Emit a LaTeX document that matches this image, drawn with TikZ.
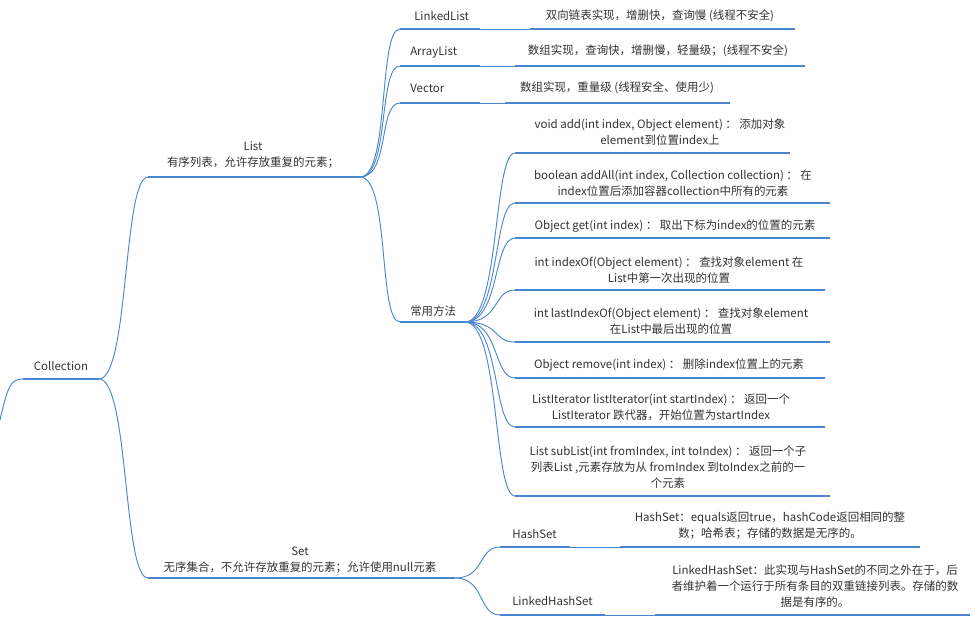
\documentclass[tikz,border=0pt]{standalone}
\usepackage{fontspec}
\setmainfont{Noto Sans CJK SC}
\begin{document}
\begin{tikzpicture}[x=0.75pt,y=-0.75pt,
  ul/.style={draw=lineblue,line width=2.2pt},
  con/.style={draw=lineblue,line width=0.7pt},
  txt/.style={font=\fontsize{8.6}{12}\selectfont,text=txtgray,align=center,inner sep=0pt}]
\definecolor{lineblue}{HTML}{4A86D0}
\definecolor{txtgray}{HTML}{333333}
\useasboundingbox[fill=white] (0,0) rectangle (975,622);
% coordinates
\coordinate (in) at (0,420);
\coordinate (colL) at (23,379); \coordinate (colR) at (99,379);
\coordinate (listL) at (148,177); \coordinate (listR) at (360,177);
\coordinate (setL) at (148,578); \coordinate (setR) at (455,578);
\coordinate (llL) at (400,29); \coordinate (llR) at (480,29);
\coordinate (alL) at (400,66); \coordinate (alR) at (480,66);
\coordinate (vecL) at (400,103); \coordinate (vecR) at (480,103);
\coordinate (mtL) at (400,322); \coordinate (mtR) at (465,322);
\coordinate (lldL) at (530,29); \coordinate (lldR) at (795,29);
\coordinate (aldL) at (515,66); \coordinate (aldR) at (805,66);
\coordinate (vecdL) at (505,103); \coordinate (vecdR) at (730,103);
\foreach \n/\y/\r in {1/153/790,2/203/830,3/238/830,4/290/825,5/342/830,6/378/825,7/427/825,8/496/830}{
  \coordinate (m\n L) at (515,\y); \coordinate (m\n R) at (\r,\y);}
\coordinate (hsL) at (500,547); \coordinate (hsR) at (570,547);
\coordinate (lhsL) at (500,615); \coordinate (lhsR) at (605,615);
\coordinate (hsdL) at (620,547); \coordinate (hsdR) at (920,547);
\coordinate (lhsdL) at (655,615); \coordinate (lhsdR) at (970,615);
% underlines
\foreach \a in {col,list,set,ll,al,vec,mt,lld,ald,vecd,hs,lhs,hsd,lhsd,m1,m2,m3,m4,m5,m6,m7,m8}{
  \draw[ul] (\a L) -- (\a R);}
% connectors
\draw[con] (in) .. controls +(8,-35) and +(-12,0) .. (colL);
\foreach \b in {listL,setL}{\draw[con] (colR) .. controls +(30,0) and +(-25,0) .. (\b);}
\foreach \b in {llL,alL,vecL,mtL}{\draw[con] (listR) .. controls +(30,0) and +(-22,0) .. (\b);}
\draw[con] (llR) -- (lldL); \draw[con] (alR) -- (aldL); \draw[con] (vecR) -- (vecdL);
\foreach \n in {1,...,8}{\draw[con] (mtR) .. controls +(35,0) and +(-22,0) .. (m\n L);}
\foreach \b in {hsL,lhsL}{\draw[con] (setR) .. controls +(30,0) and +(-22,0) .. (\b);}
\draw[con] (hsR) -- (hsdL); \draw[con] (lhsR) -- (lhsdL);
% texts
\node[txt] (tcol) at (61,366) {Collection};
\node[txt] (tlist) at (253,155) {List\\有序列表，允许存放重复的元素；};
\node[txt] (tset) at (300,560) {Set\\无序集合，不允许存放重复的元素；允许使用null元素};
\node[txt,anchor=west] (tll) at (414,16) {LinkedList};
\node[txt,anchor=west] (tal) at (410,52) {ArrayList};
\node[txt,anchor=west] (tvec) at (410,88) {Vector};
\node[txt,anchor=west] (tmt) at (410,311) {常用方法};
\node[txt] (tlld) at (660,16) {双向链表实现，增删快，查询慢 (线程不安全)};
\node[txt] (tald) at (658,51) {数组实现，查询快，增删慢，轻量级；(线程不安全)};
\node[txt] (tvecd) at (617,88) {数组实现，重量级 (线程安全、使用少)};
\node[txt] (t1) at (660,132) {void add(int index, Object element) ： 添加对象\\element到位置index上};
\node[txt] (t2) at (673,183) {boolean addAll(int index, Collection collection) ： 在\\index位置后添加容器collection中所有的元素};
\node[txt] (t3) at (675,226) {Object get(int index) ： 取出下标为index的位置的元素};
\node[txt] (t4) at (669,270) {int indexOf(Object element) ： 查找对象element 在\\List中第一次出现的位置};
\node[txt] (t5) at (671,321) {int lastIndexOf(Object element) ： 查找对象element\\在List中最后出现的位置};
\node[txt] (t6) at (669,365) {Object remove(int index) ： 删除index位置上的元素};
\node[txt] (t7) at (661,407) {ListIterator listIterator(int startIndex) ： 返回一个\\ListIterator 跌代器，开始位置为startIndex};
\node[txt] (t8) at (668,467) {List subList(int fromIndex, int toIndex) ： 返回一个子\\列表List ,元素存放为从 fromIndex 到toIndex之前的一\\个元素};
\node[txt,anchor=west] (ths) at (512,534) {HashSet};
\node[txt,anchor=west] (tlhs) at (512,601) {LinkedHashSet};
\node[txt] (thsd) at (770,526) {HashSet：equals返回true，hashCode返回相同的整\\数；哈希表；存储的数据是无序的。};
\node[txt] (tlhsd) at (815,586) {LinkedHashSet：此实现与HashSet的不同之外在于，后\\者维护着一个运行于所有条目的双重链接列表。存储的数\\据是有序的。};
\end{tikzpicture}
\end{document}
